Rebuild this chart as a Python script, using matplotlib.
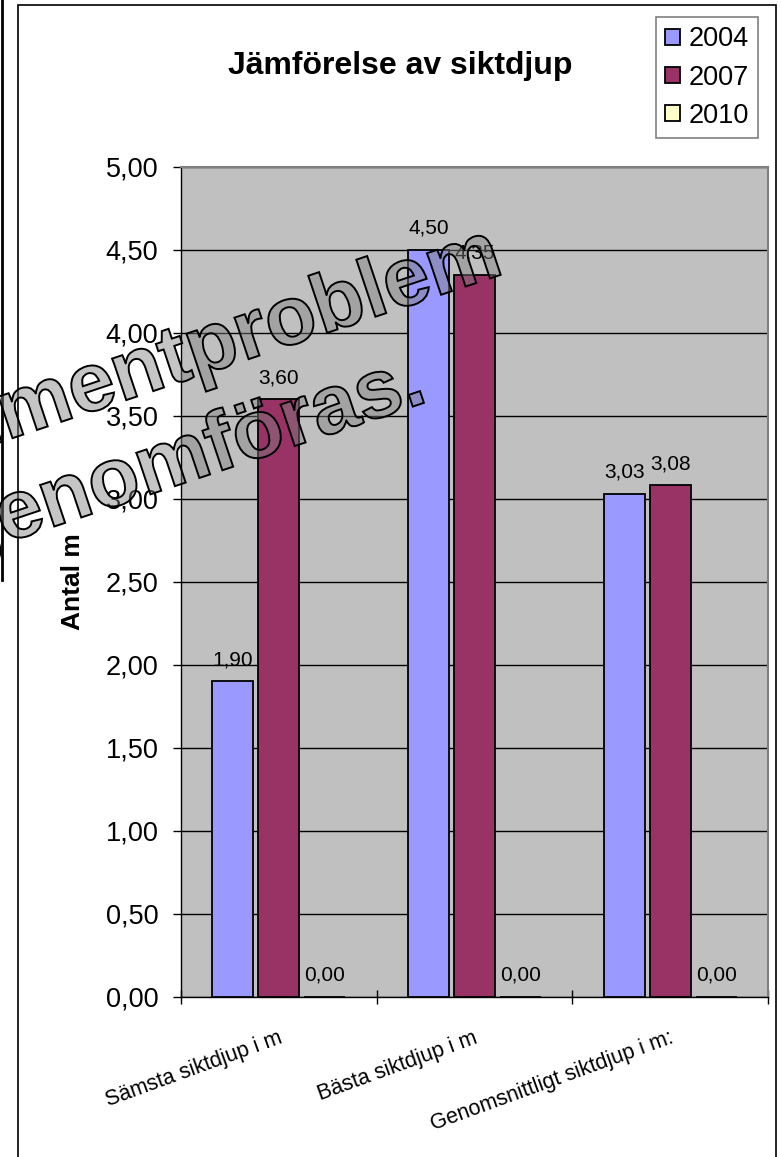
import matplotlib
matplotlib.use("Agg")
import matplotlib.pyplot as plt
from matplotlib.patches import Rectangle, PathPatch
from matplotlib.lines import Line2D
from matplotlib.textpath import TextPath, text_to_path
from matplotlib.font_manager import FontProperties
from matplotlib.transforms import Affine2D, IdentityTransform
import numpy as np

plt.rcParams['font.family'] = ['Liberation Sans', 'DejaVu Sans']

# data
categories = ["Sämsta siktdjup i m", "Bästa siktdjup i m", "Genomsnittligt siktdjup i m:"]
years = ["2004", "2007", "2010"]
v2004 = [1.90, 4.50, 3.03]
v2007 = [3.60, 4.35, 3.08]
v2010 = [0.00, 0.00, 0.00]
colors = ["#9999FF", "#993366", "#FFFFCC"]

W, H = 781, 1157
fig = plt.figure(figsize=(W / 100, H / 100), dpi=100)

ax = fig.add_axes([181 / W, 160.3 / H, 587 / W, 830 / H])
ax.set_facecolor("#C0C0C0")

x = np.arange(len(categories))
offsets = [-0.235, 0.0, 0.235]
series = [v2004, v2007, v2010]
handles = []
for vals, off, col, yr in zip(series, offsets, colors, years):
    b = ax.bar(x + off, vals, width=0.21, color=col, edgecolor="black",
               linewidth=1.3, label=yr, zorder=3)
    handles.append(b)
    for xi, v in zip(x, vals):
        ax.annotate(f"{v:.2f}".replace(".", ","), (xi + off, v),
                    xytext=(0, 11.5), textcoords="offset points",
                    ha="center", va="baseline", fontsize=15, zorder=4)

ax.set_xlim(-0.5, 2.5)
ax.set_ylim(0, 5)
yt = np.arange(0, 5.01, 0.5)
ax.set_yticks(yt)
ax.set_yticklabels([f"{t:.2f}".replace(".", ",") for t in yt], fontsize=19.5)
ax.tick_params(axis="y", direction="out", length=5.8, width=1, pad=10.5)
ax.set_xticks([-0.5, 0.5, 1.5, 2.5])
ax.set_xticklabels([])
ax.tick_params(axis="x", direction="inout", length=9.4, width=1)
ax.yaxis.grid(True, color="black", linewidth=1, zorder=1)
ax.set_axisbelow(True)
for s in ["top", "right"]:
    ax.spines[s].set_color("#808080")
    ax.spines[s].set_linewidth(1.5)
for s in ["left", "bottom"]:
    ax.spines[s].set_color("black")
    ax.spines[s].set_linewidth(1)

for xi, lab in zip(x, categories):
    ax.text(xi - 0.005, -0.037, lab, transform=ax.get_xaxis_transform(),
            rotation=20, rotation_mode="anchor", ha="right", va="top", fontsize=15.5)

ax.set_ylabel("Antal m", fontsize=19, fontweight="bold")
ax.yaxis.set_label_coords((85 - 181) / 587, (1157 - 582 - 160.3) / 830)

fig.text(400 / W, 1 - 66 / H, "Jämförelse av siktdjup", ha="center", va="center",
         fontsize=23, fontweight="bold")

leg = fig.legend(handles=handles, labels=years, loc="upper right",
                 bbox_to_anchor=(758 / W, 1 - 17 / H), fontsize=19.5, frameon=True,
                 fancybox=False, edgecolor="#808080", framealpha=1,
                 handlelength=0.55, handleheight=0.55, handletextpad=0.3,
                 labelspacing=0.45, borderpad=0.35, borderaxespad=0)
leg.get_frame().set_linewidth(1.2)

# outer chart border and stray line at the far left
fig.add_artist(Rectangle((18 / W, -0.01), (776 - 18) / W, 1 - 5 / H + 0.01,
                         transform=fig.transFigure, fill=False,
                         edgecolor="black", linewidth=1.2))
fig.add_artist(Line2D([1.5 / W, 1.5 / W], [1, 1 - 580 / H], color="black", linewidth=2))

# watermark overlay
wm_prop = FontProperties(family="Liberation Sans", weight="bold")
wm_size = 83
angle = 18.5


def watermark(full, skip, x_img, y_img):
    tp = TextPath((0, 0), full, size=wm_size, prop=wm_prop)
    w_skip = 0
    if skip:
        w_skip = text_to_path.get_text_width_height_descent(skip, wm_prop.copy(), ismath=False)[0]
        w_skip = w_skip * wm_size / wm_prop.get_size_in_points()
    tr = (Affine2D().translate(-w_skip, 0).rotate_deg(angle)
          .translate(x_img, H - y_img) + IdentityTransform())
    fig.add_artist(PathPatch(tp, transform=tr, facecolor=(0.5, 0.5, 0.5, 0.45),
                             edgecolor="black", linewidth=1.4, zorder=10))


watermark("Dokumentproblem", "Doku", 7, 440)
watermark("kan inte genomföras.", "kan inte g", 5, 543)

fig.savefig("out.png", dpi=100)
